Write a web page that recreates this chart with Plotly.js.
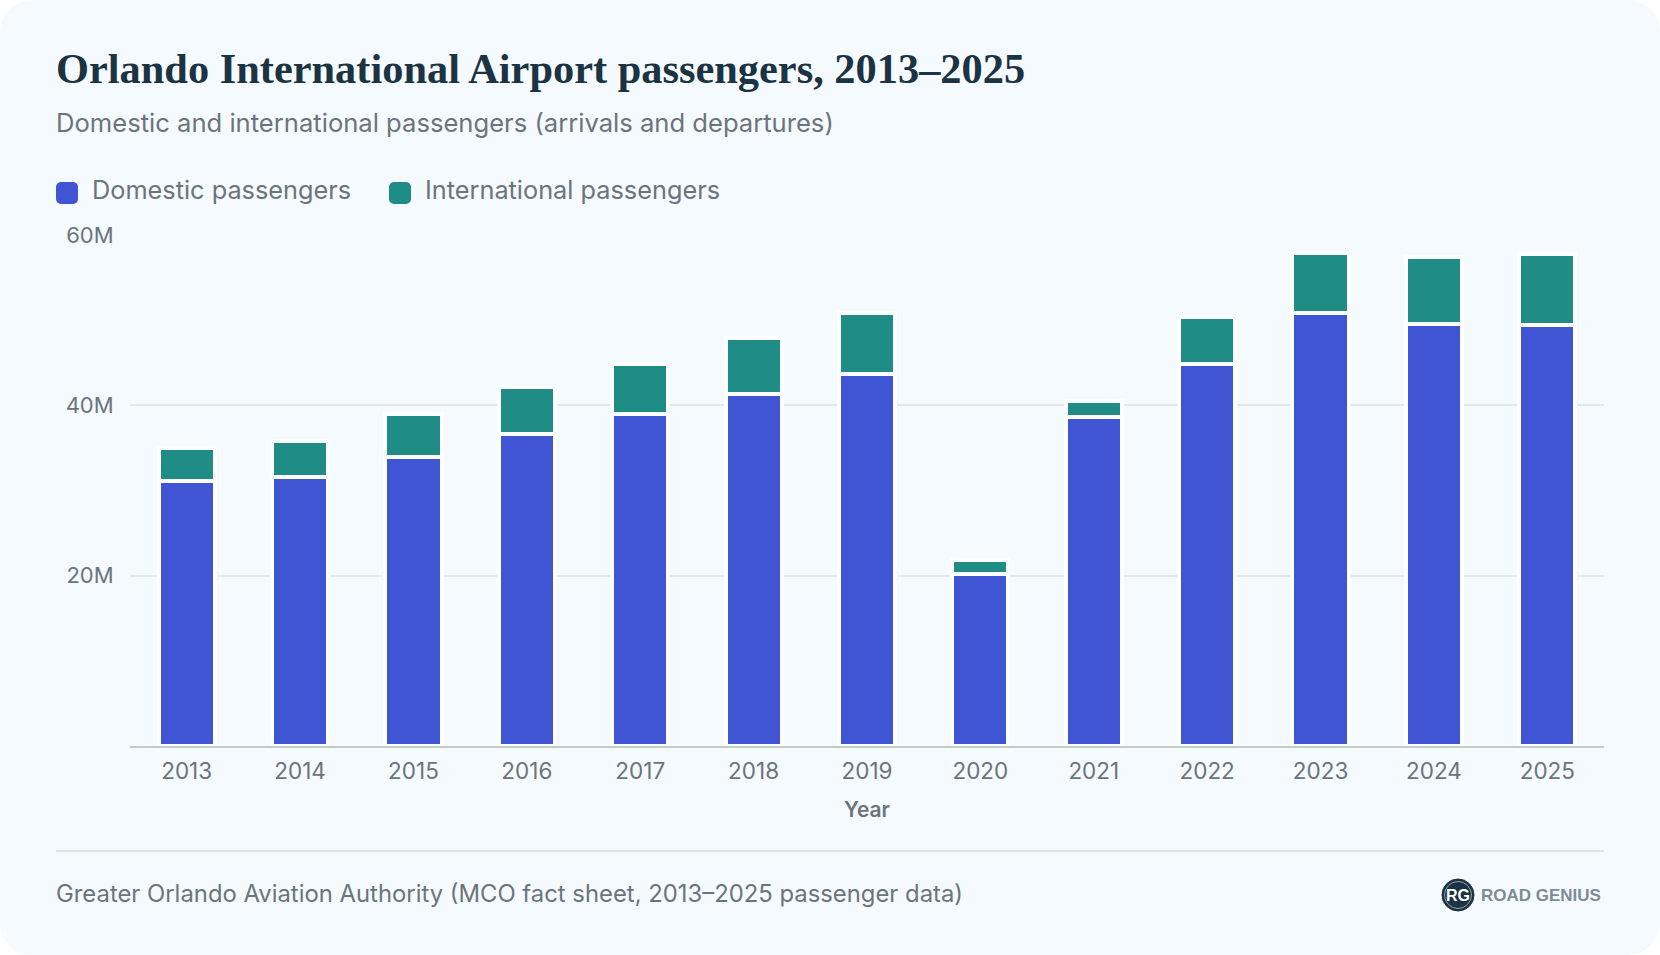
<!DOCTYPE html>
<html><head><meta charset="utf-8">
<script src="https://cdn.plot.ly/plotly-3.0.1.min.js"></script>
<style>
html,body{margin:0;padding:0;background:#fff;width:1660px;height:955px;overflow:hidden}
#chart{width:1660px;height:955px;background:#f5faff;border-radius:32px;overflow:hidden}
#chart .legend .scrollbox{clip-path:none !important}
</style></head><body><div id="chart"></div>
<script>
const years=['2013','2014','2015','2016','2017','2018','2019','2020','2021','2022','2023','2024','2025'];
const domestic=[31.1,31.6,33.9,36.6,39.0,41.3,43.7,20.2,38.6,44.9,50.9,49.6,49.4];
const international=[3.85,4.2,5.1,5.5,5.8,6.6,7.1,1.6,1.9,5.5,7.0,7.8,8.4];
const yTickValues=[20,40,60];
const yTickLabels=['20M','40M','60M'];
const seriesNames=['Domestic passengers','International passengers'];
const titleText='Orlando International Airport passengers, 2013–2025';
const subtitleText='Domestic and international passengers (arrivals and departures)';
const sourceText='Greater Orlando Aviation Authority (MCO fact sheet, 2013–2025 passenger data)';
const bodyFont='Inter, sans-serif';
const W=1660,H=955;
const L=130,R=1604,T=235,B=746;
const px=x=>(x-L)/(R-L), py=y=>(B-y)/(B-T);
const lineStyle={color:'#fcfeff',width:4};
const data=[
 {type:'bar',name:seriesNames[0],x:years,y:domestic,marker:{color:'#3f55d4',line:lineStyle},hovertemplate:'%{x}: %{y}M<extra>'+seriesNames[0]+'</extra>'},
 {type:'bar',name:seriesNames[1],x:years,y:international,marker:{color:'#208c86',line:lineStyle},hovertemplate:'%{x}: %{y}M<extra>'+seriesNames[1]+'</extra>'}
];
const layout={
 width:W,height:H,autosize:false,
 paper_bgcolor:'rgba(0,0,0,0)',plot_bgcolor:'rgba(0,0,0,0)',
 barmode:'stack',bargap:0.505,
 margin:{l:L,r:W-R,t:T,b:H-B,pad:0},
 font:{family:bodyFont,color:'#6b747c',size:22},
 title:{text:titleText,x:56/W,xanchor:'left',xref:'container',yref:'container',y:1-68/H,yanchor:'middle',
   font:{family:'"Liberation Serif", serif',size:42.4,weight:700,color:'#1b3342'}},
 xaxis:{type:'category',tickmode:'array',tickvals:years,ticktext:years,
   showline:true,linecolor:'#c3cbc5',linewidth:2,showgrid:false,ticks:'outside',ticklen:4,tickcolor:'rgba(0,0,0,0)',
   tickfont:{size:22.5,color:'#6b747c'},
   title:{text:'Year',standoff:19,font:{size:21,weight:600,color:'#6b747c'}}},
 yaxis:{range:[0,60],tickmode:'array',tickvals:yTickValues,ticktext:yTickLabels,
   showgrid:true,gridcolor:'#e3e9e4',gridwidth:2,zeroline:false,showline:false,
   ticks:'outside',ticklen:11,tickcolor:'rgba(0,0,0,0)',tickfont:{size:22,color:'#6b747c'}},
 legend:{orientation:'h',x:px(46),xanchor:'left',y:py(189),yanchor:'middle',itemwidth:36,
   traceorder:'normal',entrywidth:282,entrywidthmode:'pixels',font:{size:25.3,color:'#6b747c'},bgcolor:'rgba(0,0,0,0)'},
 shapes:[
  {type:'line',xref:'paper',yref:'paper',x0:px(56),x1:px(1604),y0:py(851),y1:py(851),line:{color:'#dfe5e2',width:2},layer:'below'},
  {type:'circle',xref:'paper',yref:'paper',x0:px(1442),x1:px(1474),y0:py(911),y1:py(879),fillcolor:'#1b3342',line:{color:'#1b3342',width:1}},
  {type:'circle',xref:'paper',yref:'paper',x0:px(1444.5),x1:px(1471.5),y0:py(908.5),y1:py(881.5),line:{color:'#8fa3ad',width:1}}
 ],
 annotations:[
  {text:subtitleText,xref:'paper',yref:'paper',x:px(56),y:py(122),xanchor:'left',yanchor:'middle',showarrow:false,xshift:-2,font:{size:25.6,color:'#6b747c'}},
  {text:sourceText,xref:'paper',yref:'paper',x:px(56),y:py(893),xanchor:'left',yanchor:'middle',showarrow:false,xshift:-2,font:{size:23.85,color:'#6b747c'}},
  {text:'<b>RG</b>',xref:'paper',yref:'paper',x:px(1458),y:py(895),xanchor:'center',yanchor:'middle',showarrow:false,font:{size:16,color:'#ffffff',family:'"Liberation Sans", sans-serif'}},
  {text:'<b>ROAD GENIUS</b>',xref:'paper',yref:'paper',x:px(1479),y:py(895),xanchor:'left',yanchor:'middle',showarrow:false,font:{size:17,color:'#7e8b96',family:'"Liberation Sans", sans-serif'}}
 ]
};
function styleSwatches(){
 document.querySelectorAll('#chart .legend .legendpoints path').forEach(p=>{
  p.setAttribute('d','M-8,-7H4A5,5 0 0 1 9,-2V10A5,5 0 0 1 4,15H-8A5,5 0 0 1 -13,10V-2A5,5 0 0 1 -8,-7Z');
  p.style.strokeWidth='0';
 });
 document.querySelectorAll('#chart .legend .scrollbox, #chart .legend .legendtoggle').forEach(n=>n.removeAttribute('clip-path'));
 document.querySelectorAll('#chart .legend').forEach(n=>{n.style.overflow='visible';});
}
Plotly.newPlot('chart',data,layout,{displayModeBar:false,responsive:false}).then(gd=>{
 styleSwatches();gd.on('plotly_afterplot',styleSwatches);
});
</script></body></html>
